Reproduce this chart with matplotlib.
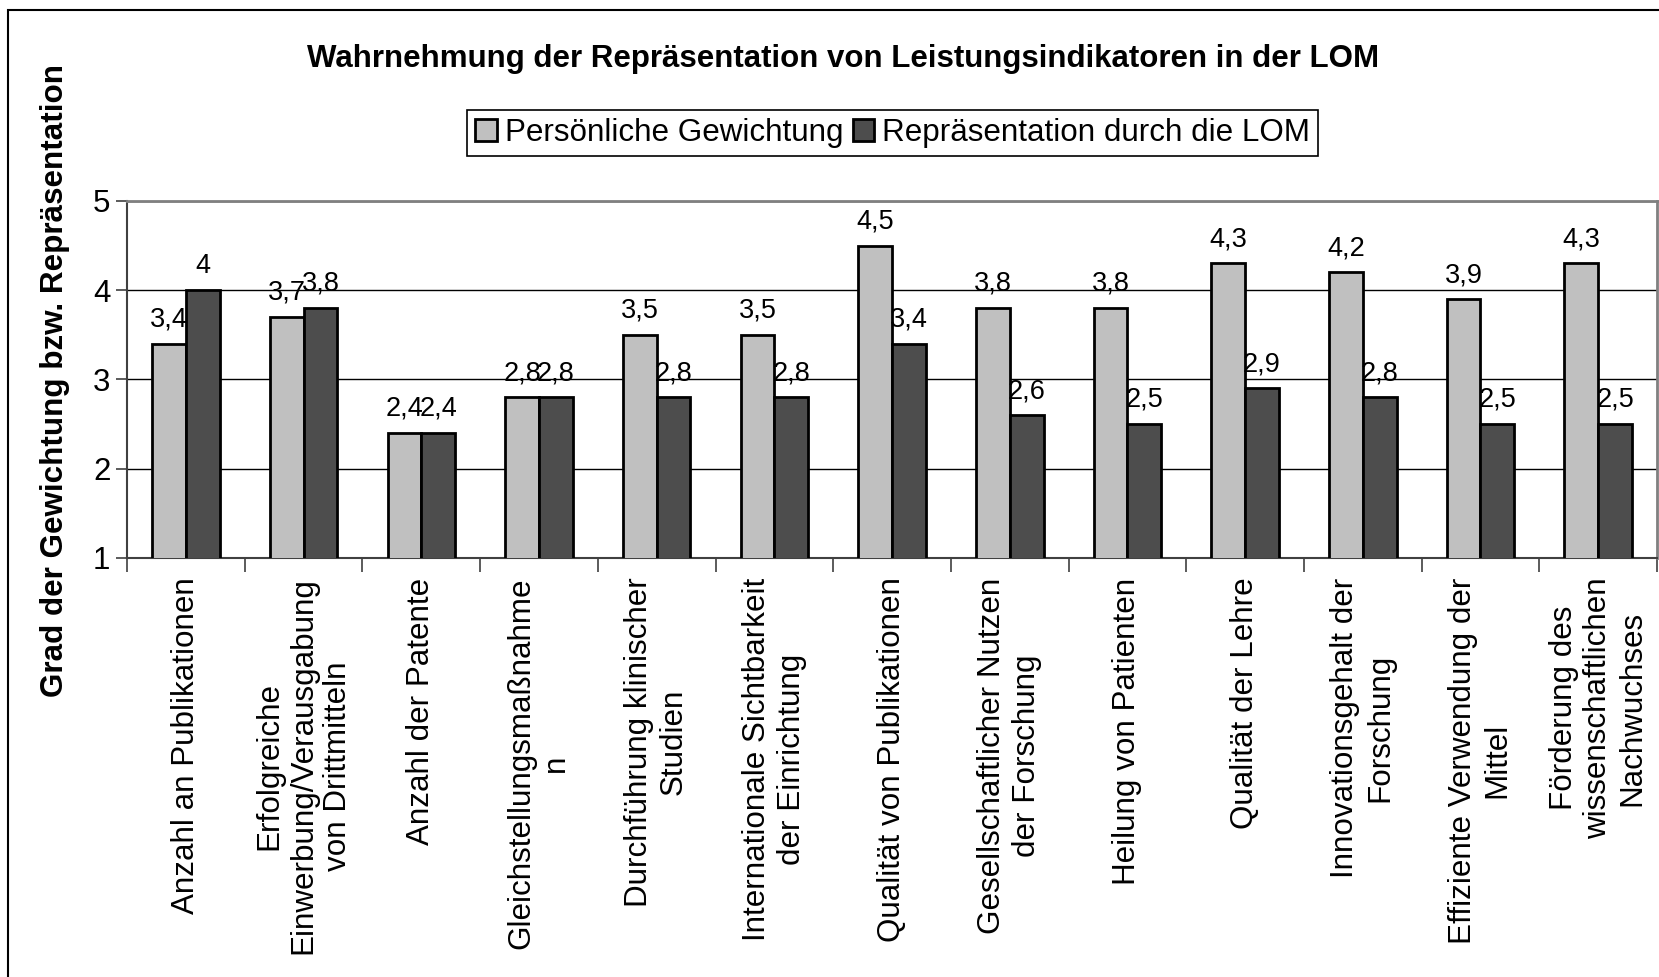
import numpy as np
import matplotlib
matplotlib.use("Agg")
import matplotlib.pyplot as plt
from matplotlib.patches import Rectangle
from matplotlib.ticker import FixedLocator, NullFormatter

plt.rcParams["font.family"] = ["Liberation Sans", "DejaVu Sans"]

categories = [
    "Anzahl an Publikationen",
    "Erfolgreiche\nEinwerbung/Verausgabung\nvon Drittmitteln",
    "Anzahl der Patente",
    "Gleichstellungsmaßnahme\nn",
    "Durchführung klinischer\nStudien",
    "Internationale Sichtbarkeit\nder Einrichtung",
    "Qualität von Publikationen",
    "Gesellschaftlicher Nutzen\nder Forschung",
    "Heilung von Patienten",
    "Qualität der Lehre",
    "Innovationsgehalt der\nForschung",
    "Effiziente Verwendung der\nMittel",
    "Förderung des\nwissenschaftlichen\nNachwuchses",
]
persoenlich = [3.4, 3.7, 2.4, 2.8, 3.5, 3.5, 4.5, 3.8, 3.8, 4.3, 4.2, 3.9, 4.3]
lom = [4.0, 3.8, 2.4, 2.8, 2.8, 2.8, 3.4, 2.6, 2.5, 2.9, 2.8, 2.5, 2.5]
series_names = ["Persönliche Gewichtung", "Repräsentation durch die LOM"]
yticks = [1, 2, 3, 4, 5]

LIGHT = "#c0c0c0"
DARK = "#4d4d4d"


def fmt(v):
    s = f"{v:.1f}".rstrip("0").rstrip(".")
    return s.replace(".", ",")


fig = plt.figure(figsize=(16.59, 9.77), dpi=100)
# outer chart border (right and bottom edges fall outside the picture)
fig.patches.append(Rectangle((0.0048, -0.1), 1.1, 1.09, transform=fig.transFigure,
                             fill=False, edgecolor="black", linewidth=1.5))

ax = fig.add_axes([0.0766, 0.4289, 0.9222, 0.3654])

x = np.arange(len(categories))
w = 0.287
b1 = ax.bar(x - w / 2, persoenlich, w, color=LIGHT, edgecolor="black",
            linewidth=2, label=series_names[0], zorder=3)
b2 = ax.bar(x + w / 2, lom, w, color=DARK, edgecolor="black",
            linewidth=2, label=series_names[1], zorder=3)

for bars, vals in ((b1, persoenlich), (b2, lom)):
    for rect, v in zip(bars, vals):
        ax.annotate(fmt(v), (rect.get_x() + rect.get_width() / 2, v),
                    xytext=(0, 8), textcoords="offset points",
                    ha="center", va="bottom", fontsize=19.5)

ax.set_ylim(1, 5)
ax.set_xlim(-0.5, len(categories) - 0.5)
ax.set_yticks(yticks)
ax.yaxis.grid(True, color="black", linewidth=1)
ax.set_axisbelow(True)

ax.set_xticks(x)
ax.set_xticklabels(categories, rotation=90, ha="center", va="top",
                   multialignment="center", fontsize=22.6)
ax.tick_params(axis="x", which="major", length=0, pad=14)
ax.xaxis.set_minor_locator(FixedLocator(np.arange(len(categories) + 1) - 0.5))
ax.xaxis.set_minor_formatter(NullFormatter())
ax.tick_params(axis="x", which="minor", length=10, width=1.2, color="#404040")
ax.tick_params(axis="y", length=8, width=1.2, color="#404040",
               labelsize=22.5, pad=4)

ax.spines["left"].set_color("#404040")
ax.spines["left"].set_linewidth(1.5)
ax.spines["bottom"].set_color("#404040")
ax.spines["bottom"].set_linewidth(1.5)
ax.spines["top"].set_color("#808080")
ax.spines["top"].set_linewidth(2)
ax.spines["right"].set_color("#808080")
ax.spines["right"].set_linewidth(2)

fig.text(0.033, 0.611, "Grad der Gewichtung bzw. Repräsentation", rotation=90,
         ha="center", va="center", fontsize=22.6, fontweight="bold")

fig.text(0.508, 0.940, "Wahrnehmung der Repräsentation von Leistungsindikatoren in der LOM",
         ha="center", va="center", fontsize=22.5, fontweight="bold")

leg = fig.legend(handles=[b1, b2], loc="center", bbox_to_anchor=(0.538, 0.864),
                 ncol=2, fontsize=22.6, frameon=True, fancybox=False,
                 edgecolor="black", framealpha=1, handlelength=0.7,
                 handleheight=0.7, handletextpad=0.25, columnspacing=0.3,
                 borderpad=0.25, borderaxespad=0)
leg.get_frame().set_linewidth(1.2)

fig.savefig("out.png", dpi=100)
